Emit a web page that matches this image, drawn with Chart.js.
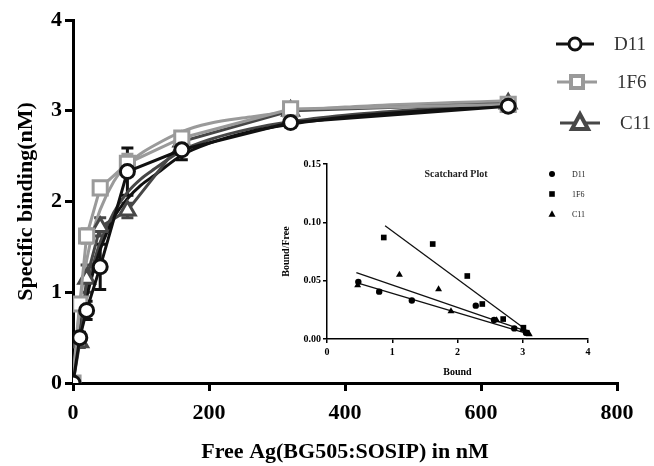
<!DOCTYPE html>
<html>
<head>
<meta charset="utf-8">
<script src="https://cdn.jsdelivr.net/npm/chart.js@4"></script>
<style>
  body { margin: 0; background: #fff; }
  #wrap { position: relative; width: 654px; height: 466px; }
  #main { position: absolute; left: 0; top: 0; }
  #inset { position: absolute; left: 270px; top: 150px; }
</style>
</head>
<body>
<div id="wrap">
  <canvas id="main" width="654" height="466"></canvas>
  <canvas id="inset" width="340" height="240"></canvas>
</div>
<script>
// main plot data (free Ag, nM)
const freeAg = [0, 10, 20, 40, 80, 160, 320, 640];
const d11 = [0, 0.5, 0.8, 1.28, 2.33, 2.57, 2.87, 3.05];
const f16 = [0, 0.87, 1.62, 2.15, 2.42, 2.7, 3.02, 3.07];
const c11 = [0, 0.45, 1.15, 1.72, 1.9, 2.66, 3.0, 3.08];
const d11Err = [0, 0.06, 0.1, 0.25, 0.26, 0.11, 0.05, 0.04];
const f16Err = [0, 0.05, 0.08, 0.06, 0.1, 0.06, 0.04, 0.04];
const c11Err = [0, 0.06, 0.15, 0.1, 0.08, 0.06, 0.04, 0.04];

// fitted curves
const fitX = [0, 5, 10, 20, 30, 40, 60, 80, 100, 120, 160, 200, 260, 320, 400, 480, 560, 640];
const d11Fit = [0, 0.3, 0.55, 0.94, 1.23, 1.47, 1.82, 2.03, 2.18, 2.29, 2.51, 2.64, 2.77, 2.85, 2.93, 2.98, 3.02, 3.06];
const f16Fit = [0, 0.49, 0.86, 1.35, 1.68, 1.91, 2.22, 2.41, 2.53, 2.62, 2.77, 2.86, 2.93, 2.99, 3.04, 3.07, 3.09, 3.11];
const c11Fit = [0, 0.33, 0.6, 1.01, 1.31, 1.55, 1.88, 2.1, 2.25, 2.36, 2.56, 2.68, 2.8, 2.88, 2.95, 3.0, 3.04, 3.07];

// scatchard inset data
const d11Bound = [0.48, 0.8, 1.3, 2.28, 2.56, 2.87, 3.05];
const d11BF = [0.049, 0.0406, 0.033, 0.0286, 0.0163, 0.0091, 0.0054];
const f16Bound = [0.87, 1.62, 2.15, 2.38, 2.7, 3.01, 3.06];
const f16BF = [0.087, 0.0814, 0.054, 0.03, 0.0171, 0.0097, 0.0054];
const c11Bound = [0.47, 1.11, 1.71, 1.9, 2.6, 3.0, 3.1];
const c11BF = [0.046, 0.055, 0.0426, 0.0237, 0.016, 0.008, 0.004];
// regression line end points
const d11LineX = [0.45, 3.06], d11LineY = [0.0483, 0.0049];
const f16LineX = [0.89, 3.01], f16LineY = [0.0971, 0.0097];
const c11LineX = [0.45, 3.01], c11LineY = [0.0569, 0.0077];

const SERIF = '"Liberation Serif", "DejaVu Serif", serif';
const BLACK = '#111', GRAY = '#9a9a9a', DARK = '#474747';

function pts(xs, ys) { return xs.map((x, i) => ({ x: x, y: ys[i] })); }

function marker(ctx, style, x, y, r, fill, stroke, lw) {
  ctx.save();
  ctx.fillStyle = fill; ctx.strokeStyle = stroke; ctx.lineWidth = lw;
  ctx.beginPath();
  if (style === 'circle') {
    ctx.arc(x, y, r, 0, Math.PI * 2);
  } else if (style === 'rect') {
    ctx.rect(x - r, y - r, r * 2, r * 2);
  } else {
    ctx.moveTo(x, y - r * 1.1);
    ctx.lineTo(x + r, y + r * 0.75);
    ctx.lineTo(x - r, y + r * 0.75);
    ctx.closePath();
  }
  ctx.fill();
  if (lw > 0) ctx.stroke();
  ctx.restore();
}

const errorBars = {
  id: 'errorBars',
  beforeDatasetsDraw(chart) {
    const ctx = chart.ctx, xs = chart.scales.x, ys = chart.scales.y;
    chart.data.datasets.forEach(ds => {
      if (!ds.err) return;
      ctx.save();
      ctx.strokeStyle = ds.borderColor;
      ctx.lineWidth = 3;
      ds.data.forEach((p, j) => {
        const e = ds.err[j];
        if (!e) return;
        const px = xs.getPixelForValue(p.x);
        const t = ys.getPixelForValue(p.y + e), b = ys.getPixelForValue(p.y - e);
        ctx.beginPath();
        ctx.moveTo(px, t); ctx.lineTo(px, b);
        ctx.moveTo(px - 6, t); ctx.lineTo(px + 6, t);
        ctx.moveTo(px - 6, b); ctx.lineTo(px + 6, b);
        ctx.stroke();
      });
      ctx.restore();
    });
  }
};

const mainLegend = {
  id: 'mainLegend',
  afterDraw(chart) {
    const ctx = chart.ctx;
    const rows = [
      { t: 'D11', c: BLACK, s: 'circle', y: 44, x0: 556, x1: 594 },
      { t: '1F6', c: GRAY, s: 'rect', y: 82, x0: 557, x1: 597 },
      { t: 'C11', c: DARK, s: 'triangle', y: 123, x0: 560, x1: 600 }
    ];
    ctx.save();
    ctx.font = '19px ' + SERIF;
    ctx.textBaseline = 'middle';
    rows.forEach(r => {
      ctx.strokeStyle = r.c; ctx.lineWidth = 3;
      ctx.beginPath(); ctx.moveTo(r.x0, r.y); ctx.lineTo(r.x1, r.y); ctx.stroke();
      const cx = (r.x0 + r.x1) / 2;
      if (r.s === 'circle') marker(ctx, 'circle', cx, r.y, 6, '#fff', r.c, 3);
      if (r.s === 'rect') marker(ctx, 'rect', cx, r.y, 6, '#fff', r.c, 4);
      if (r.s === 'triangle') marker(ctx, 'triangle', cx, r.y, 8, '#fff', r.c, 4);
      ctx.fillStyle = '#333';
      ctx.fillText(r.t, r.x1 + 20, r.y + 1);
    });
    ctx.restore();
  }
};

function series(label, ys, color, style, radius, err) {
  return {
    label: label, data: pts(freeAg, ys), err: err,
    borderColor: color, borderWidth: 3,
    pointStyle: style, pointRadius: radius, pointBorderWidth: 3,
    pointBorderColor: color, pointBackgroundColor: '#fff',
    showLine: true, order: 1
  };
}
function fitLine(ys, color) {
  return {
    data: pts(fitX, ys), borderColor: color, borderWidth: 3,
    pointRadius: 0, showLine: true, cubicInterpolationMode: 'monotone', order: 2
  };
}

new Chart(document.getElementById('main'), {
  type: 'scatter',
  data: {
    datasets: [
      series('D11', d11, BLACK, 'circle', 7, d11Err),
      series('1F6', f16, GRAY, 'rect', 10, f16Err),
      series('C11', c11, DARK, 'triangle', 9, c11Err),
      fitLine(d11Fit, BLACK),
      fitLine(f16Fit, GRAY),
      fitLine(c11Fit, DARK)
    ]
  },
  options: {
    responsive: false, animation: false, devicePixelRatio: 1,
    layout: { padding: { left: 0, right: 37, top: 20, bottom: 0 } },
    plugins: { legend: { display: false }, tooltip: { enabled: false } },
    scales: {
      x: {
        type: 'linear', min: 0, max: 800,
        afterFit: s => { s.height = 83; },
        border: { color: '#000', width: 3 },
        grid: { drawOnChartArea: false, color: '#000', lineWidth: 3, tickLength: 8 },
        ticks: { stepSize: 200, color: '#000', padding: 9, font: { family: SERIF, size: 22, weight: 'bold' } },
        title: { display: true, text: 'Free Ag(BG505:SOSIP) in nM', color: '#000', padding: 0,
                 font: { family: SERIF, size: 22, weight: 'bold' } }
      },
      y: {
        min: 0, max: 4,
        afterFit: s => { s.width = 73; },
        border: { color: '#000', width: 3 },
        grid: { drawOnChartArea: false, color: '#000', lineWidth: 3, tickLength: 8 },
        ticks: { stepSize: 1, color: '#000', padding: 3, font: { family: SERIF, size: 22, weight: 'bold' } },
        title: { display: true, text: 'Specific binding(nM)', color: '#000', padding: { top: 13 },
                 font: { family: SERIF, size: 22, weight: 'bold' } }
      }
    }
  },
  plugins: [errorBars, mainLegend]
});

// inset: Scatchard plot
const insetDecor = {
  id: 'insetDecor',
  afterDraw(chart) {
    const ctx = chart.ctx;
    ctx.save();
    ctx.fillStyle = '#222';
    ctx.font = 'bold 10px ' + SERIF;
    ctx.textAlign = 'center';
    ctx.textBaseline = 'middle';
    ctx.fillText('Scatchard Plot', 186, 24);
    ctx.font = '8px ' + SERIF;
    ctx.textAlign = 'left';
    const rows = [['D11', 'circle', 24], ['1F6', 'rect', 44], ['C11', 'triangle', 64]];
    rows.forEach(r => {
      const s = r[1] === 'circle' ? 3 : (r[1] === 'rect' ? 2.8 : 3.5);
      marker(ctx, r[1], 282, r[2], s, '#000', '#000', 0);
      ctx.fillText(r[0], 302, r[2] + 1);
    });
    ctx.restore();
  }
};

function scat(xs, ys, style, r) {
  return { data: pts(xs, ys), pointStyle: style, pointRadius: r, backgroundColor: '#000',
           borderColor: '#000', pointBorderWidth: 0, showLine: false };
}
function reg(xs, ys) {
  return { data: pts(xs, ys), showLine: true, borderColor: '#111', borderWidth: 1.3, pointRadius: 0 };
}

new Chart(document.getElementById('inset'), {
  type: 'scatter',
  data: {
    datasets: [
      scat(d11Bound, d11BF, 'circle', 3.2),
      scat(f16Bound, f16BF, 'rect', 4),
      scat(c11Bound, c11BF, 'triangle', 4),
      reg(d11LineX, d11LineY),
      reg(f16LineX, f16LineY),
      reg(c11LineX, c11LineY)
    ]
  },
  options: {
    responsive: false, animation: false, devicePixelRatio: 1,
    layout: { padding: { left: 0, right: 22, top: 14, bottom: 0 } },
    plugins: { legend: { display: false }, tooltip: { enabled: false } },
    scales: {
      x: {
        type: 'linear', min: 0, max: 4,
        afterFit: s => { s.height = 51; },
        border: { color: '#000', width: 1.5 },
        grid: { drawOnChartArea: false, color: '#000', lineWidth: 1.5, tickLength: 4 },
        ticks: { stepSize: 1, color: '#000', padding: 3, font: { family: SERIF, size: 10, weight: 'bold' } },
        title: { display: true, text: 'Bound', color: '#000', padding: { top: 0, bottom: 12 },
                 font: { family: SERIF, size: 10, weight: 'bold' } }
      },
      y: {
        min: 0, max: 0.15,
        afterFit: s => { s.width = 57; },
        border: { color: '#000', width: 1.5 },
        grid: { drawOnChartArea: false, color: '#000', lineWidth: 1.5, tickLength: 4 },
        ticks: { stepSize: 0.05, color: '#000', padding: 2,
                 callback: v => v.toFixed(2),
                 font: { family: SERIF, size: 10, weight: 'bold' } },
        title: { display: true, text: 'Bound/Free', color: '#000', padding: { top: 10 },
                 font: { family: SERIF, size: 10, weight: 'bold' } }
      }
    }
  },
  plugins: [insetDecor]
});
</script>
</body>
</html>
